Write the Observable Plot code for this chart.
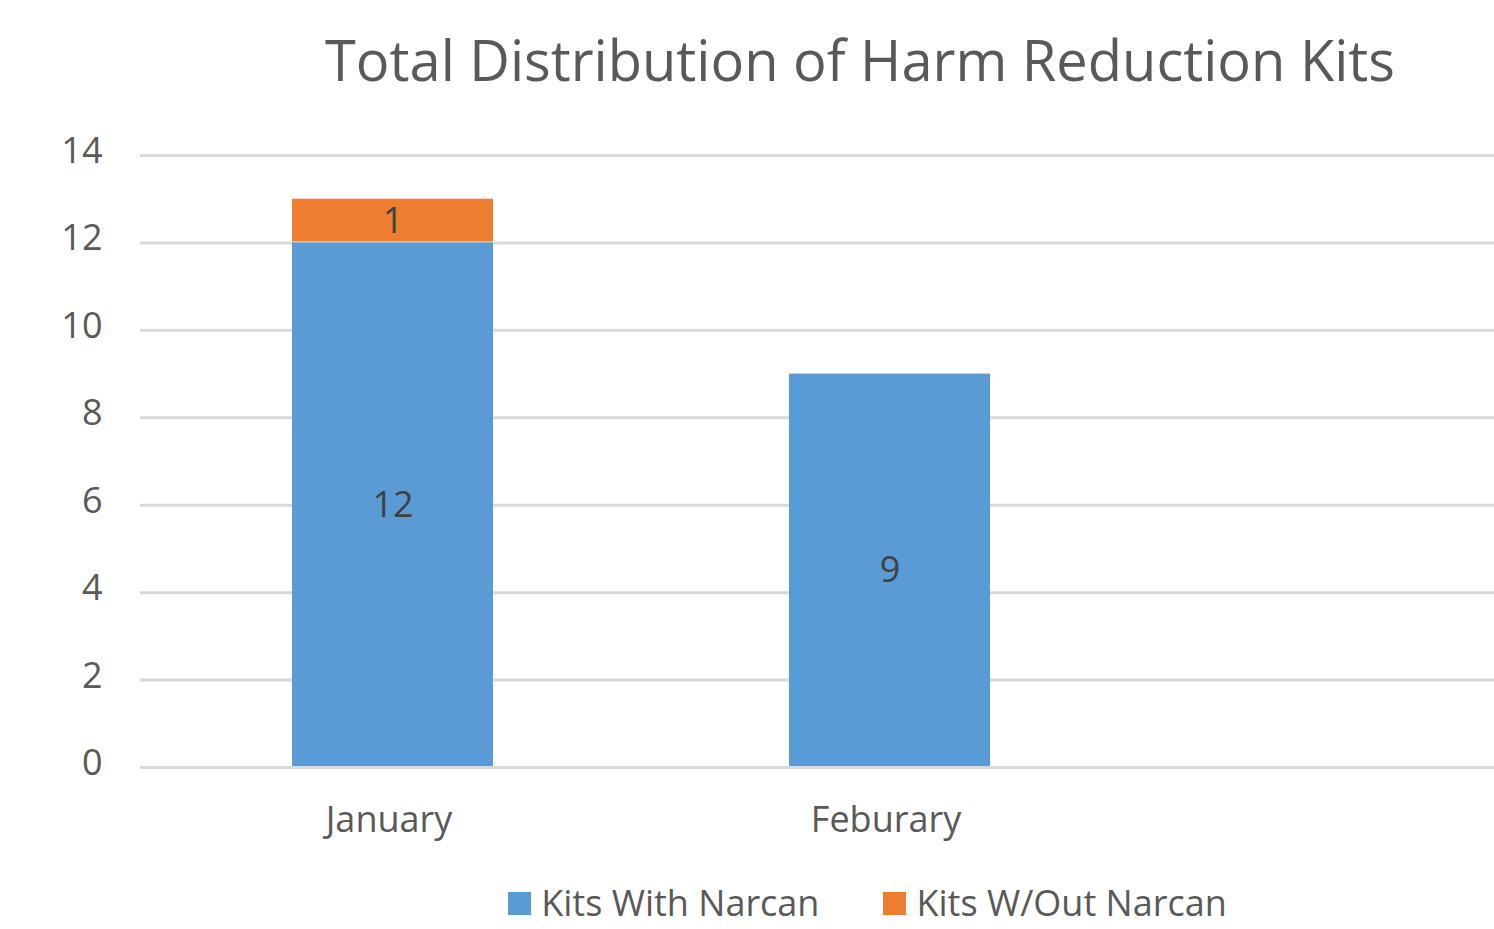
<!DOCTYPE html>
<html>
<head>
<meta charset="utf-8">
<script src="https://cdn.jsdelivr.net/npm/d3@7"></script>
<script src="https://cdn.jsdelivr.net/npm/@observablehq/plot@0.6"></script>
<style>
  html, body { margin: 0; padding: 0; background: #fff; overflow: hidden; }
  body { width: 1494px; height: 929px; position: relative; font-family: "Open Sans", sans-serif; color: #595959; }
  #title { position: absolute; left: 0; top: 31px; width: 1720px; text-align: center; font-size: 56px; line-height: 1; white-space: nowrap; }
  #chart { position: absolute; left: 0; top: 110px; }
  #legend { position: absolute; left: 0; top: 885px; width: 1735px; height: 36px; display: flex; justify-content: center; align-items: center; font-size: 36px; line-height: 1; white-space: nowrap; }
  .item { display: flex; align-items: center; }
  .item + .item { margin-left: 64px; }
  .sw { width: 23px; height: 23px; margin-right: 10px; display: inline-block; }
</style>
</head>
<body>
<div id="title">Total Distribution of Harm Reduction Kits</div>
<div id="chart"></div>
<div id="legend"></div>
<script>
const months = ["January", "Feburary"];
const seriesNames = ["Kits With Narcan", "Kits W/Out Narcan"];
const withNarcan = [12, 9];
const withoutNarcan = [1, 0];
const yTicks = [0, 2, 4, 6, 8, 10, 12, 14];
const colors = ["#5B9BD5", "#ED7D31"];

const seriesValues = [withNarcan, withoutNarcan];
const data = [];
seriesNames.forEach((s, si) => {
  months.forEach((m, mi) => {
    data.push({month: m, series: s, value: seriesValues[si][mi]});
  });
});

const chart = Plot.plot({
  width: 1494,
  height: 770,
  marginLeft: 140,
  marginRight: 0,
  marginTop: 45,
  marginBottom: 113,
  style: {fontFamily: "Open Sans, sans-serif", fontSize: "36px", color: "#595959", background: "white"},
  x: {domain: months, range: [143.75, 1138.75], paddingInner: 0.596, paddingOuter: 0.298, label: null},
  y: {domain: [0, 14], label: null},
  color: {domain: seriesNames, range: colors},
  marks: [
    Plot.ruleY(yTicks, {stroke: "#d9d9d9", strokeWidth: 3}),
    Plot.barY(data, {x: "month", y: "value", fill: "series", insetBottom: 1}),
    Plot.text(data.filter(d => d.value > 0), Plot.stackY({x: "month", y: "value", z: "series", text: d => String(d.value), fill: "#404040", fontSize: 36})),
    Plot.axisY({ticks: yTicks, tickSize: 0, tickPadding: 38, fontSize: 36, dy: -4, label: null}),
    Plot.axisX({tickSize: 0, tickPadding: 39, fontSize: 36, dx: -4, label: null})
  ]
});
document.getElementById("chart").appendChild(chart);

const legend = document.getElementById("legend");
seriesNames.forEach((s, i) => {
  const item = document.createElement("div");
  item.className = "item";
  const sw = document.createElement("span");
  sw.className = "sw";
  sw.style.background = colors[i];
  const t = document.createElement("span");
  t.textContent = s;
  item.appendChild(sw);
  item.appendChild(t);
  legend.appendChild(item);
});
</script>
</body>
</html>
